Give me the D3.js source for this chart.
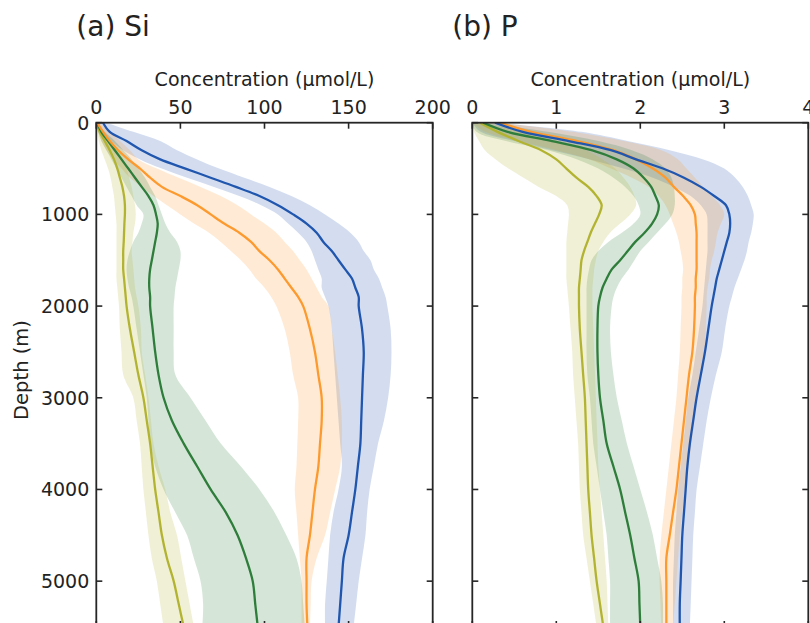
<!DOCTYPE html>
<html>
<head>
<meta charset="utf-8">
<script src="https://cdn.jsdelivr.net/npm/d3@7"></script>
<style>
  html, body { margin: 0; padding: 0; background: #fff; }
  svg { display: block; font-family: "DejaVu Sans", sans-serif; }
</style>
</head>
<body>
<svg id="chart" width="810" height="623"></svg>
<script>
// ---------- DATA ----------
const depths = [0,100,200,300,400,500,600,700,800,900,1000,1100,1200,1300,1400,1500,1600,1700,1800,1900,2000,2250,2500,2750,3000,3250,3500,3750,4000,4250,4500,4750,5000,5250,5500];

const seriesNames = ["blue", "orange", "green", "olive"];
const seriesColors = ["#2156ae", "#fd9a2f", "#2f7d3b", "#b3b332"];

// Panel (a) Si
const siBlueMean  = [4,8,18,27,38,53,68,83,97,108,117,125,131,135,140,144,148,152,154,156,156,158,159,158.5,158,157.5,157,155.5,154,152,150,147,146,145,144];
const siBlueUp    = [6,22,38,48,60,73,88,103,116,127,136,144,151,156,159,163,165,168,170,172,173,175,175.5,175,173.5,171,167.5,165,162.5,161,160,158,156,154.5,153];
const siBlueLo    = [0,4,9,16,26,39,54,70,85,98,108,114,120,125,128,130,132,134,134,136,138,140,141,142,143,144,145,146,144,141,139,138,137,136,136];
const siOrangeMean= [0.5,4,8,13,19,26,32,39,50,60,68,76,85,92,97,103,108,112,116,120,123,127,130,132,134,134,133,132,130,128.5,127,125,125,125,125.5];
const siOrangeUp  = [2,8,14,20,25,36,49,62,74,84,92,100,107,112,117,121,125,128,131,134,138,140,142,143.5,145,146,146,145,142,139,136,131,128,127.5,127];
const siOrangeLo  = [0,1,3,6,10,15,20,27,34,42,50,58,67,74,80,86,91,95,100,104,107,112,115,117,120,120,119.5,119,118,119,120,121,122,122,122];
const siGreenMean = [0.5,3,7,11,15,19,23,27,31,34,35.5,36.5,36,35,34,33,32,31.5,31.5,32,32,33.5,35,37,40,45,52,60,68,77,84,89,93,94.5,96];
const siGreenUp   = [1,5,11,16,21,25,29,32,35,37,39,41,44,48,50,50,49,48,47,46.5,46,46,46,47,56,65,74,86,97,106,113,119,122,123,124];
const siGreenLo   = [0,1,3,6,9,12,15,18,21,24,28,27,25,22,20,18.5,18,18.5,19.5,21,22,24,26,28,30,31,32,35,40,47,54,58,62,63.5,63];
const siOliveMean = [0.5,2,5,8,10.5,12.5,14,15.5,16.5,17,17,16.7,16.5,16.3,16,16,16,16.5,17,17.5,18,20,22.5,25,28,30,32,33.5,35,37,39,42,46,49,52];
const siOliveUp   = [1,4,9,13,16,18,19.5,21,22,23,23.5,23,22,21.5,21,21.5,22,22.5,23,24,25,26.5,27,29,31,32.5,34,37,41,44,48,50.5,53,55.5,58];
const siOliveLo   = [0,0.5,1.5,3,5,7,8.5,9.5,10.5,11,11.5,12,12,12,12,12,12,12,12.5,13,13.5,14,15,16,22,24,26,27,28,29.5,31,33,36,38,40];

// Panel (b) P
const pBlueMean   = [0.27,0.6,1.15,1.65,1.95,2.27,2.52,2.72,2.88,3.02,3.06,3.07,3.06,3.03,3.0,2.97,2.94,2.91,2.89,2.87,2.85,2.81,2.77,2.72,2.67,2.63,2.59,2.56,2.54,2.52,2.5,2.49,2.48,2.47,2.47];
const pBlueUp     = [0.3,1.3,1.85,2.35,2.75,3.0,3.13,3.22,3.28,3.32,3.35,3.34,3.32,3.29,3.27,3.24,3.2,3.16,3.12,3.09,3.06,3.01,2.97,2.9,2.84,2.79,2.75,2.71,2.67,2.65,2.63,2.62,2.61,2.6,2.59];
const pBlueLo     = [0,0.1,0.5,0.95,1.4,1.8,2.15,2.4,2.6,2.72,2.79,2.8,2.8,2.8,2.8,2.79,2.78,2.77,2.76,2.75,2.74,2.7,2.66,2.62,2.57,2.54,2.51,2.48,2.45,2.43,2.41,2.4,2.39,2.39,2.39];
const pOrangeMean = [0.33,0.7,1.25,1.68,1.95,2.15,2.3,2.4,2.51,2.6,2.65,2.66,2.67,2.67,2.67,2.67,2.67,2.66,2.66,2.65,2.65,2.64,2.62,2.58,2.55,2.52,2.49,2.46,2.43,2.39,2.35,2.31,2.31,2.31,2.31];
const pOrangeUp   = [0.35,1.2,1.8,2.25,2.45,2.55,2.65,2.75,2.85,2.95,3.0,2.96,2.92,2.9,2.88,2.85,2.83,2.82,2.8,2.79,2.79,2.78,2.77,2.72,2.67,2.64,2.61,2.57,2.53,2.5,2.47,2.45,2.43,2.41,2.39];
const pOrangeLo   = [0,0.15,0.55,1.0,1.4,1.65,1.9,2.1,2.22,2.3,2.35,2.39,2.43,2.46,2.48,2.5,2.51,2.5,2.5,2.49,2.49,2.48,2.47,2.45,2.43,2.4,2.37,2.34,2.31,2.28,2.25,2.23,2.23,2.24,2.25];
const pGreenMean  = [0.13,0.42,0.95,1.42,1.72,1.92,2.04,2.13,2.18,2.22,2.2,2.14,2.05,1.94,1.85,1.76,1.66,1.6,1.55,1.52,1.5,1.49,1.49,1.5,1.52,1.56,1.6,1.68,1.76,1.82,1.88,1.93,1.98,1.99,2.0];
const pGreenUp    = [0.15,0.9,1.5,1.9,2.15,2.3,2.37,2.4,2.41,2.41,2.38,2.3,2.2,2.1,2.0,1.93,1.86,1.78,1.72,1.68,1.66,1.64,1.65,1.68,1.72,1.78,1.84,1.92,2.0,2.08,2.15,2.2,2.25,2.27,2.27];
const pGreenLo    = [0,0.05,0.4,0.9,1.25,1.5,1.68,1.82,1.92,1.98,2.0,1.92,1.78,1.62,1.5,1.42,1.39,1.37,1.36,1.36,1.36,1.36,1.36,1.37,1.4,1.42,1.44,1.48,1.52,1.56,1.6,1.62,1.64,1.64,1.64];
const pOliveMean  = [0.09,0.3,0.55,0.82,1.0,1.12,1.24,1.38,1.48,1.54,1.51,1.46,1.41,1.37,1.33,1.3,1.29,1.28,1.27,1.27,1.27,1.28,1.3,1.32,1.34,1.35,1.36,1.37,1.38,1.4,1.42,1.45,1.48,1.52,1.56];
const pOliveUp    = [0.1,0.6,1.0,1.35,1.55,1.7,1.8,1.88,1.93,1.95,1.88,1.76,1.64,1.56,1.5,1.47,1.45,1.44,1.43,1.43,1.43,1.44,1.45,1.46,1.47,1.48,1.49,1.5,1.52,1.54,1.56,1.58,1.6,1.61,1.62];
const pOliveLo    = [0,0.02,0.08,0.15,0.28,0.43,0.61,0.79,1.0,1.13,1.15,1.14,1.13,1.12,1.12,1.12,1.12,1.12,1.13,1.14,1.15,1.17,1.19,1.2,1.22,1.24,1.26,1.27,1.28,1.3,1.32,1.36,1.4,1.44,1.48];

const siTicks = [0, 50, 100, 150, 200];
const pTicks = [0, 1, 2, 3, 4];
const depthTicks = [0, 1000, 2000, 3000, 4000, 5000];

const panels = [
  { title: "(a) Si", xMax: 200, xTicks: siTicks, left: 96.3, right: 432.7, yLabels: true,
    mean: [siBlueMean, siOrangeMean, siGreenMean, siOliveMean],
    up:   [siBlueUp, siOrangeUp, siGreenUp, siOliveUp],
    lo:   [siBlueLo, siOrangeLo, siGreenLo, siOliveLo] },
  { title: "(b) P", xMax: 4, xTicks: pTicks, left: 472.3, right: 808.3, yLabels: false,
    mean: [pBlueMean, pOrangeMean, pGreenMean, pOliveMean],
    up:   [pBlueUp, pOrangeUp, pGreenUp, pOliveUp],
    lo:   [pBlueLo, pOrangeLo, pGreenLo, pOliveLo] }
];

// ---------- DRAW ----------
const svg = d3.select("#chart");
const yTop = 122.7, yBottom = 627;
const y = d3.scaleLinear().domain([0, 5500]).range([yTop, yBottom]);
const frameColor = "#262626";
const tickLen = 6;
const fsTick = 19;

panels.forEach((p, pi) => {
  const x = d3.scaleLinear().domain([0, p.xMax]).range([p.left, p.right]);
  const g = svg.append("g");
  const clipId = "clip" + pi;
  svg.append("clipPath").attr("id", clipId).append("rect")
    .attr("x", p.left).attr("y", yTop).attr("width", p.right - p.left).attr("height", yBottom - yTop);

  const plot = g.append("g").attr("clip-path", `url(#${clipId})`);
  const curve = d3.curveCatmullRom.alpha(0.5);

  seriesNames.forEach((s, i) => {
    const rows = depths.map((d, k) => ({ d, lo: p.lo[i][k], up: p.up[i][k] }));
    plot.append("path").datum(rows)
      .attr("d", d3.area().curve(curve).y(r => y(r.d)).x0(r => x(r.lo)).x1(r => x(r.up)))
      .attr("fill", seriesColors[i]).attr("fill-opacity", 0.2).attr("stroke", "none");
  });
  [3, 2, 1, 0].forEach(i => {
    const rows = depths.map((d, k) => ({ d, v: p.mean[i][k] }));
    plot.append("path").datum(rows)
      .attr("d", d3.line().curve(curve).y(r => y(r.d)).x(r => x(r.v)))
      .attr("fill", "none").attr("stroke", seriesColors[i]).attr("stroke-width", 2.3);
  });

  g.append("rect").attr("x", p.left).attr("y", yTop).attr("width", p.right - p.left).attr("height", yBottom - yTop)
    .attr("fill", "none").attr("stroke", frameColor).attr("stroke-width", 1.8);

  p.xTicks.forEach(t => {
    g.append("line").attr("x1", x(t)).attr("x2", x(t)).attr("y1", yTop).attr("y2", yTop + tickLen)
      .attr("stroke", frameColor).attr("stroke-width", 1.6);
    g.append("line").attr("x1", x(t)).attr("x2", x(t)).attr("y1", yBottom).attr("y2", yBottom - tickLen)
      .attr("stroke", frameColor).attr("stroke-width", 1.6);
    g.append("text").attr("x", x(t)).attr("y", yTop - 8.5).attr("text-anchor", "middle")
      .attr("font-size", fsTick).attr("fill", "#222").text(t);
  });
  depthTicks.forEach(t => {
    g.append("line").attr("x1", p.left).attr("x2", p.left + tickLen).attr("y1", y(t)).attr("y2", y(t))
      .attr("stroke", frameColor).attr("stroke-width", 1.6);
    g.append("line").attr("x1", p.right).attr("x2", p.right - tickLen).attr("y1", y(t)).attr("y2", y(t))
      .attr("stroke", frameColor).attr("stroke-width", 1.6);
    if (p.yLabels) {
      g.append("text").attr("x", p.left - 7).attr("y", y(t)).attr("dy", "0.36em").attr("text-anchor", "end")
        .attr("font-size", fsTick).attr("fill", "#222").text(t);
    }
  });

  g.append("text").attr("x", (p.left + p.right) / 2).attr("y", 86).attr("text-anchor", "middle")
    .attr("font-size", 19).attr("fill", "#222").text("Concentration (μmol/L)");
  g.append("text").attr("x", p.left - 20).attr("y", 36).attr("font-size", 28).attr("fill", "#222").text(p.title);
});

svg.append("text").attr("transform", `translate(28,370) rotate(-90)`)
  .attr("text-anchor", "middle").attr("font-size", 19.5).attr("fill", "#222").text("Depth (m)");
</script>
</body>
</html>
